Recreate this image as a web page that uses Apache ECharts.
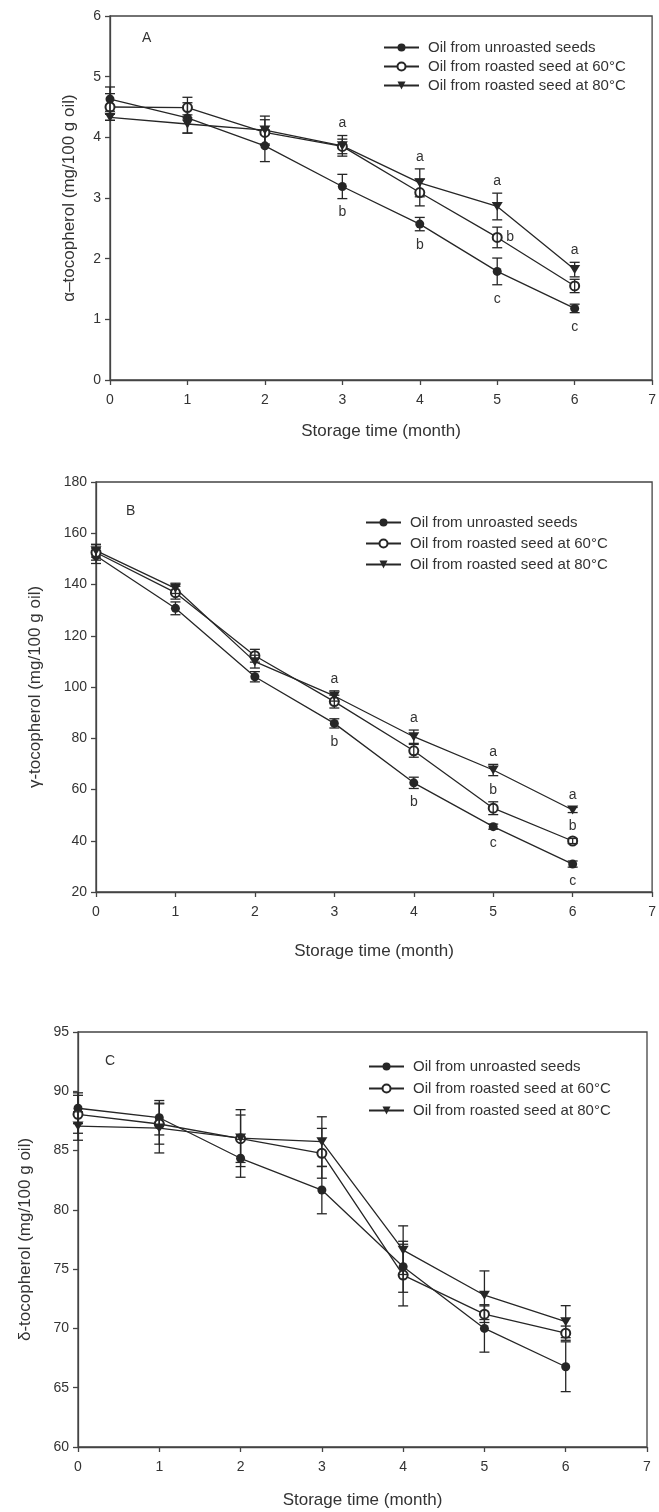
<!DOCTYPE html>
<html>
<head>
<meta charset="utf-8">
<script src="https://cdn.jsdelivr.net/npm/echarts@6/dist/echarts.min.js"></script>
<style>
  html, body { margin: 0; padding: 0; background: #fff; }
  #chart { width: 659px; height: 1512px; }
</style>
</head>
<body>
<div id="chart"></div>
<script>
const months = [0, 1, 2, 3, 4, 5, 6]
const seriesNames = [
  'Oil from unroasted seeds',
  'Oil from roasted seed at 60°C',
  'Oil from roasted seed at 80°C'
]
const xTicks = [0, 1, 2, 3, 4, 5, 6, 7]

// A: alpha-tocopherol
const alphaUnroasted = [4.63, 4.32, 3.86, 3.19, 2.57, 1.79, 1.18]
const alphaUnroastedErr = [0.2, 0.25, 0.26, 0.2, 0.11, 0.22, 0.07]
const alpha60 = [4.5, 4.49, 4.08, 3.85, 3.09, 2.35, 1.55]
const alpha60Err = [0.22, 0.17, 0.21, 0.12, 0.22, 0.17, 0.11]
const alpha80 = [4.33, 4.22, 4.12, 3.86, 3.25, 2.86, 1.82]
const alpha80Err = [0.05, 0.15, 0.23, 0.17, 0.23, 0.22, 0.12]
const alphaLetters = [
  ['', '', '', 'b', 'b', 'c', 'c'],
  ['', '', '', '', '', 'b', ''],
  ['', '', '', 'a', 'a', 'a', 'a']
]

// B: gamma-tocopherol
const gammaUnroasted = [151.2, 130.7, 104.0, 85.8, 62.6, 45.5, 30.9]
const gammaUnroastedErr = [3, 2.5, 2, 1.8, 2.2, 1, 1.2]
const gamma60 = [152.5, 136.8, 112.2, 94.3, 75.1, 52.7, 39.9]
const gamma60Err = [3, 2.5, 2.5, 2.5, 2.5, 2.5, 1]
const gamma80 = [153.2, 138.5, 109.9, 96.5, 80.6, 67.6, 52.0]
const gamma80Err = [2.5, 2, 2.5, 2, 2.6, 2.2, 1]
const gammaLetters = [
  ['', '', '', 'b', 'b', 'c', 'c'],
  ['', '', '', '', '', 'b', 'b'],
  ['', '', '', 'a', 'a', 'a', 'a']
]

// C: delta-tocopherol
const deltaUnroasted = [88.57, 87.77, 84.35, 81.67, 75.2, 70.0, 66.77]
const deltaUnroastedErr = [1.3, 1.45, 1.6, 2.0, 2.15, 2.0, 2.1]
const delta60 = [88.06, 87.24, 86.0, 84.77, 74.5, 71.2, 69.6]
const delta60Err = [1.6, 1.7, 2.0, 2.1, 2.6, 0.7, 0.6]
const delta80 = [87.07, 86.9, 86.05, 85.75, 76.6, 72.8, 70.57]
const delta80Err = [1.2, 2.1, 2.4, 2.1, 2.05, 2.05, 1.35]

const FONT = '"Liberation Sans", Arial, sans-serif'
const INK = '#262626'
const TEXT = '#333'
const TRIANGLE_DOWN = 'path://M0,0L10,0L5,9Z'
const markers = [
  { symbol: 'circle', size: 9 },
  { symbol: 'emptyCircle', size: 9 },
  { symbol: TRIANGLE_DOWN, size: [11, 10] }
]

const panels = [
  {
    tag: 'A', yName: 'α–tocopherol (mg/100 g oil)', yMin: 0, yMax: 6, yInterval: 1,
    grid: { left: 110, top: 16, width: 548, height: 364 },
    yNameGap: 32, xNameGap: 43, tagPos: { left: 142, top: 31 },
    legendPos: { left: 383, top: 40, itemGap: 4 },
    values: [alphaUnroasted, alpha60, alpha80],
    errors: [alphaUnroastedErr, alpha60Err, alpha80Err],
    letters: alphaLetters, letterSide: ['below', 'right', 'above']
  },
  {
    tag: 'B', yName: 'γ-tocopherol (mg/100 g oil)', yMin: 20, yMax: 180, yInterval: 20,
    grid: { left: 96, top: 482, width: 561, height: 410 },
    yNameGap: 52, xNameGap: 51, tagPos: { left: 126, top: 504 },
    legendPos: { left: 365, top: 515, itemGap: 6 },
    values: [gammaUnroasted, gamma60, gamma80],
    errors: [gammaUnroastedErr, gamma60Err, gamma80Err],
    letters: gammaLetters, letterSide: ['below', 'above', 'above']
  },
  {
    tag: 'C', yName: 'δ-tocopherol (mg/100 g oil)', yMin: 60, yMax: 95, yInterval: 5,
    grid: { left: 78, top: 1032, width: 569, height: 415 },
    yNameGap: 44, xNameGap: 45, tagPos: { left: 105, top: 1054 },
    legendPos: { left: 368, top: 1059, itemGap: 7 },
    values: [deltaUnroasted, delta60, delta80],
    errors: [deltaUnroastedErr, delta60Err, delta80Err],
    letters: null, letterSide: null
  }
]

function errorBarSeries(gi, vals, errs) {
  const data = months.map((m, i) => [m, vals[i] - errs[i], vals[i] + errs[i]])
  return {
    type: 'custom',
    xAxisIndex: gi,
    yAxisIndex: gi,
    z: 4,
    silent: true,
    encode: { x: 0, y: [1, 2] },
    data,
    renderItem(params, api) {
      const x = api.value(0)
      const top = api.coord([x, api.value(2)])
      const bot = api.coord([x, api.value(1)])
      const hw = 5
      const style = { stroke: INK, lineWidth: 1.3 }
      return {
        type: 'group',
        children: [
          { type: 'line', shape: { x1: top[0], y1: top[1], x2: bot[0], y2: bot[1] }, style },
          { type: 'line', shape: { x1: top[0] - hw, y1: top[1], x2: top[0] + hw, y2: top[1] }, style },
          { type: 'line', shape: { x1: bot[0] - hw, y1: bot[1], x2: bot[0] + hw, y2: bot[1] }, style }
        ]
      }
    }
  }
}

function letterSeries(gi, vals, errs, letters, side) {
  const items = []
  months.forEach((m, i) => {
    if (!letters[i]) return
    let y = vals[i]
    if (side === 'above') y = vals[i] + errs[i]
    if (side === 'below') y = vals[i] - errs[i]
    items.push({ x: m, y, text: letters[i] })
  })
  return {
    type: 'custom',
    xAxisIndex: gi,
    yAxisIndex: gi,
    z: 5,
    silent: true,
    encode: { x: 0, y: 1 },
    data: items.map(it => [it.x, it.y]),
    renderItem(params, api) {
      const it = items[params.dataIndex]
      const p = api.coord([it.x, it.y])
      let pos = [p[0], p[1] - 5], align = 'center', vAlign = 'bottom'
      if (side === 'below') { pos = [p[0], p[1] + 7]; vAlign = 'top' }
      if (side === 'right') { pos = [p[0] + 9, p[1]]; align = 'left'; vAlign = 'middle' }
      return {
        type: 'text',
        x: pos[0],
        y: pos[1],
        style: {
          text: it.text,
          fill: TEXT,
          font: '14px ' + FONT,
          align,
          verticalAlign: vAlign
        }
      }
    }
  }
}

function buildOption() {
  const option = {
    animation: false,
    backgroundColor: '#fff',
    textStyle: { fontFamily: FONT },
    title: [],
    legend: [],
    grid: [],
    xAxis: [],
    yAxis: [],
    series: []
  }

  panels.forEach((pn, gi) => {
    option.grid.push({
      ...pn.grid,
      show: true,
      borderColor: '#444',
      borderWidth: 1.3,
      backgroundColor: 'transparent'
    })

    option.title.push({
      text: pn.tag,
      left: pn.tagPos.left,
      top: pn.tagPos.top,
      padding: 0,
      textStyle: { fontSize: 14, fontWeight: 'normal', color: TEXT, fontFamily: FONT }
    })

    option.legend.push({
      orient: 'vertical',
      left: pn.legendPos.left,
      top: pn.legendPos.top,
      itemGap: pn.legendPos.itemGap,
      itemWidth: 35,
      itemHeight: 10,
      padding: 0,
      selectedMode: false,
      data: seriesNames,
      textStyle: { fontSize: 15, color: TEXT, fontFamily: FONT, padding: [0, 0, 0, 4] }
    })

    option.xAxis.push({
      type: 'value',
      gridIndex: gi,
      min: 0,
      max: 7,
      interval: 1,
      name: 'Storage time (month)',
      nameLocation: 'middle',
      nameGap: pn.xNameGap,
      nameTextStyle: { fontSize: 17, color: TEXT, fontFamily: FONT },
      axisLine: { lineStyle: { color: '#444', width: 1.3 } },
      axisTick: { length: 5, lineStyle: { color: '#444', width: 1.3 } },
      axisLabel: {
        fontSize: 14, color: TEXT, margin: 13, showMaxLabel: true,
        formatter: v => (xTicks.includes(v) ? String(v) : '')
      },
      splitLine: { show: false }
    })

    option.yAxis.push({
      type: 'value',
      gridIndex: gi,
      min: pn.yMin,
      max: pn.yMax,
      interval: pn.yInterval,
      name: pn.yName,
      nameLocation: 'middle',
      nameGap: pn.yNameGap,
      nameTextStyle: { fontSize: 17, color: TEXT, fontFamily: FONT },
      axisLine: { lineStyle: { color: '#444', width: 1.3 } },
      axisTick: { length: 5, lineStyle: { color: '#444', width: 1.3 } },
      axisLabel: { fontSize: 14, color: TEXT, margin: 9 },
      splitLine: { show: false }
    })

    pn.values.forEach((vals, si) => {
      const mk = markers[si]
      option.series.push({
        name: seriesNames[si],
        type: 'line',
        xAxisIndex: gi,
        yAxisIndex: gi,
        z: 3,
        data: months.map((m, i) => [m, vals[i]]),
        symbol: mk.symbol,
        symbolSize: mk.size,
        symbolKeepAspect: true,
        showAllSymbol: true,
        lineStyle: { color: INK, width: 1.3 },
        itemStyle: { color: INK, borderColor: INK, borderWidth: si === 1 ? 1.2 : 0 },
        emphasis: { disabled: true }
      })
      option.series.push(errorBarSeries(gi, vals, pn.errors[si]))
      if (pn.letters) {
        option.series.push(letterSeries(gi, vals, pn.errors[si], pn.letters[si], pn.letterSide[si]))
      }
    })
  })

  return option
}

const chart = echarts.init(document.getElementById('chart'), null, { renderer: 'canvas' })
chart.setOption(buildOption())
</script>
</body>
</html>
